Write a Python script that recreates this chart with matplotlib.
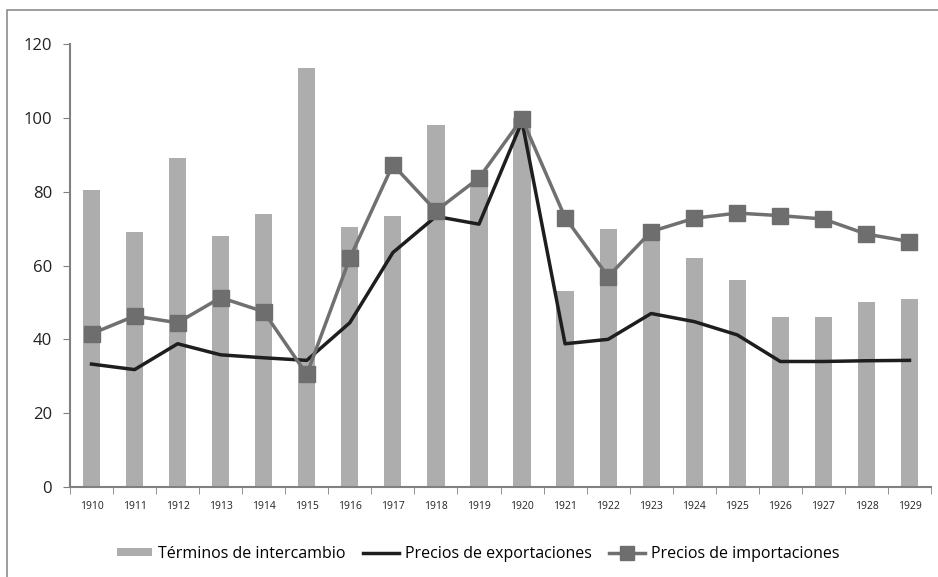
import numpy as np
import matplotlib.pyplot as plt
from matplotlib.patches import Rectangle

plt.rcParams['font.family'] = ['Open Sans', 'DejaVu Sans']

# Datos
years = [str(y) for y in range(1910, 1930)]
terminos = [80.5, 69, 89, 68, 74, 113.5, 70.5, 73.5, 98, 82,
            100, 53, 70, 68, 62, 56, 46, 46, 50, 51]
exportaciones = [33.3, 31.8, 38.8, 35.8, 35, 34.3, 44.5, 63.5, 73.3, 71.2,
                 99, 38.8, 40, 47, 44.8, 41.2, 34, 34, 34.2, 34.3]
importaciones = [41.5, 46.3, 44.5, 51.3, 47.5, 30.5, 62, 87.3, 74.8, 83.7,
                 99.8, 73, 57, 69.2, 72.8, 74.2, 73.5, 72.6, 68.5, 66.5]

x = np.arange(len(years))

fig = plt.figure(figsize=(9.38, 5.77), dpi=100)
# marco exterior
fig.patches.append(Rectangle((7 / 938, -0.1), 1.2, 1 - 10 / 577 + 0.1,
                             transform=fig.transFigure, fill=False,
                             edgecolor='#8c8c8c', linewidth=1.2))
ax = fig.add_axes([70 / 938, 1 - 487 / 577, (931 - 70) / 938, (487 - 44) / 577])

b = ax.bar(x, terminos, width=0.4, color='#adadad', label='Términos de intercambio', zorder=1)
l1, = ax.plot(x, exportaciones, color='#1e1e1e', linewidth=2.5,
              label='Precios de exportaciones', zorder=2)
l2, = ax.plot(x, importaciones, color='#707070', linewidth=2.5, marker='s', markersize=12,
              markerfacecolor='#6e6e6e', markeredgecolor='#6e6e6e',
              label='Precios de importaciones', zorder=3)

ax.set_xlim(-0.5, len(years) - 0.5)
ax.set_ylim(0, 120)
ax.set_yticks(range(0, 121, 20))
ax.set_xticks(x)
ax.set_xticklabels(years, fontsize=7.5, color='#222222')
ax.set_xticks(np.arange(-0.5, len(years), 1), minor=True)
ax.tick_params(axis='x', which='major', length=0, pad=10)
ax.tick_params(axis='x', which='minor', length=5, color='#808080', direction='out')
ax.tick_params(axis='y', length=5, color='#808080', labelsize=12, labelcolor='#222222', pad=8)

for s in ['top', 'right']:
    ax.spines[s].set_visible(False)
for s in ['left', 'bottom']:
    ax.spines[s].set_color('#808080')
    ax.spines[s].set_linewidth(1.5)

ax.legend([b, l1, l2], [b.get_label(), l1.get_label(), l2.get_label()],
          loc='upper center', bbox_to_anchor=(0.474, -0.1), ncol=3, frameon=False,
          fontsize=11.5, handlelength=2.2, handleheight=0.45, columnspacing=1.1,
          handletextpad=0.4, markerscale=0.8)

fig.savefig('out.png', dpi=100)
